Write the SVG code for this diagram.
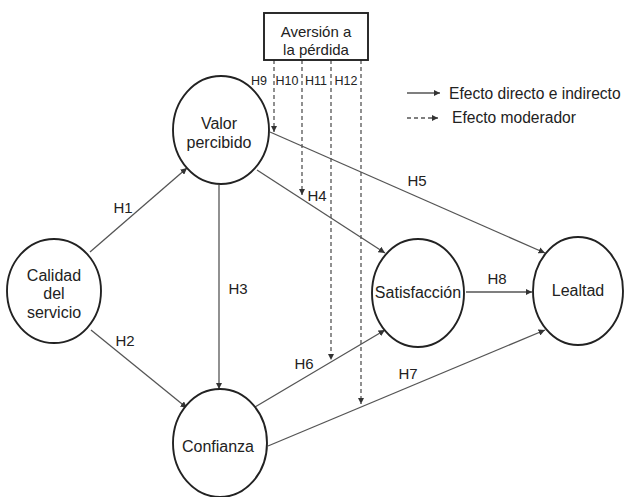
<svg xmlns="http://www.w3.org/2000/svg" width="624" height="497" viewBox="0 0 624 497">
<style>
text{font-family:"Liberation Sans",Arial,sans-serif;fill:#222;text-anchor:middle;dominant-baseline:central}
.node{fill:#fff;stroke:#222;stroke-width:1.9}
.lbl{font-size:15px}
.lg{font-size:15.6px;text-anchor:start}
.sm{font-size:12.5px}
.nt{font-size:16px}
.c{stroke:#555;stroke-width:1.3;fill:none;marker-end:url(#ah)}
.d{stroke:#555;stroke-width:1.3;fill:none;stroke-dasharray:4 3;marker-end:url(#ah)}
</style>
<defs>
<marker id="ah" viewBox="0 0 10 10" refX="10" refY="5" markerWidth="6.5" markerHeight="6.5" markerUnits="userSpaceOnUse" orient="auto">
<path d="M0,0 L10,5 L0,10 z" fill="#333"/>
</marker>
</defs>
<rect width="624" height="497" fill="#fff"/>
<g id="connectors">
<line class="c" x1="90" y1="252" x2="187" y2="168"/>
<line class="c" x1="91" y1="330" x2="187" y2="408"/>
<line class="c" x1="219" y1="185" x2="219" y2="389"/>
<line class="c" x1="257" y1="170" x2="385" y2="253"/>
<line class="c" x1="270" y1="132" x2="545" y2="253"/>
<line class="c" x1="255" y1="407" x2="385" y2="330"/>
<line class="c" x1="268" y1="446" x2="545" y2="330"/>
<line class="c" x1="466" y1="292" x2="532" y2="292"/>
<line class="d" x1="274" y1="60" x2="274" y2="132"/>
<line class="d" x1="302" y1="60" x2="302" y2="195"/>
<line class="d" x1="331" y1="60" x2="331" y2="360"/>
<line class="d" x1="361" y1="60" x2="361" y2="404"/>
<text class="lbl" x="123" y="207">H1</text>
<text class="lbl" x="125" y="340">H2</text>
<text class="lbl" x="238" y="288">H3</text>
<text class="lbl" x="317" y="195">H4</text>
<text class="lbl" x="417" y="180">H5</text>
<text class="lbl" x="304" y="363">H6</text>
<text class="lbl" x="408" y="373">H7</text>
<text class="lbl" x="497" y="278">H8</text>
<text class="sm" x="259" y="81">H9</text>
<text class="sm" x="287" y="81">H10</text>
<text class="sm" x="316" y="81">H11</text>
<text class="sm" x="346" y="81">H12</text>
</g>
<g id="aversion">
<rect x="264" y="13" width="104" height="47" fill="#fff" stroke="#222" stroke-width="1.9"/>
<text class="lbl" x="316" y="31">Aversión a</text>
<text class="lbl" x="316" y="49">la pérdida</text>
</g>
<g id="valor">
<ellipse class="node" cx="221" cy="130" rx="48" ry="54"/>
<text class="nt" x="219" y="123">Valor</text>
<text class="nt" x="219" y="142">percibido</text>
</g>
<g id="calidad">
<ellipse class="node" cx="54" cy="291" rx="47" ry="52"/>
<text class="nt" x="54" y="275">Calidad</text>
<text class="nt" x="54" y="293">del</text>
<text class="nt" x="54" y="312">servicio</text>
</g>
<g id="confianza">
<ellipse class="node" cx="220" cy="443" rx="47" ry="54"/>
<text class="nt" x="218" y="446">Confianza</text>
</g>
<g id="satisfaccion">
<ellipse class="node" cx="418" cy="293" rx="46" ry="54"/>
<text class="nt" x="418" y="292">Satisfacción</text>
</g>
<g id="lealtad">
<ellipse class="node" cx="578" cy="291" rx="45" ry="54"/>
<text class="nt" x="578" y="290">Lealtad</text>
</g>
<g id="legend">
<line class="c" x1="407" y1="93" x2="440" y2="93"/>
<line class="d" x1="407" y1="118" x2="438" y2="118"/>
<text class="lg" x="449" y="93">Efecto directo e indirecto</text>
<text class="lg" x="452" y="117">Efecto moderador</text>
</g>
</svg>
